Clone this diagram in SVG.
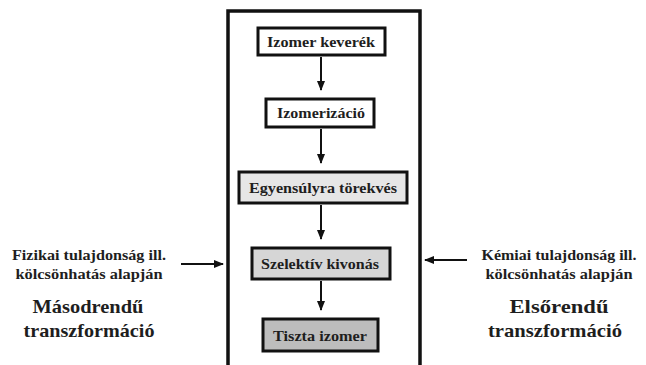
<svg xmlns="http://www.w3.org/2000/svg" width="646" height="365" viewBox="0 0 646 365">
<style>
text{font-family:'Liberation Serif','Times New Roman',serif;font-weight:bold;fill:#1e1e1e;text-anchor:middle}
.bt{font-size:15px}
.st{font-size:15px}
.lt{font-size:19px}
.box{stroke:#111;stroke-width:3}
.ln{stroke:#111;stroke-width:2;fill:none}
</style>
<defs>
<marker id="ah" viewBox="0 0 10 10" refX="9" refY="5" markerWidth="5" markerHeight="5" orient="auto" markerUnits="strokeWidth"><path d="M0,1 L10,5 L0,9 Z" fill="#111"/></marker>
</defs>
<rect width="646" height="365" fill="#fff"/>
<g id="frame"><path d="M228,366 V11 H420 V366" fill="none" stroke="#111" stroke-width="3.5"/></g>
<g id="n1"><rect class="box" x="258" y="28" width="127" height="27" fill="#fff"/><text class="bt" x="321" y="47" textLength="108" lengthAdjust="spacingAndGlyphs">Izomer keverék</text></g>
<g id="n2"><rect class="box" x="266" y="99" width="108" height="28" fill="#fff"/><text class="bt" x="321" y="118" textLength="88" lengthAdjust="spacingAndGlyphs">Izomerizáció</text></g>
<g id="n3"><rect class="box" x="239" y="172" width="168" height="31" fill="#e6e6e6"/><text class="bt" x="323" y="193" textLength="148" lengthAdjust="spacingAndGlyphs">Egyensúlyra törekvés</text></g>
<g id="n4"><rect class="box" x="252" y="248" width="138" height="31" fill="#d6d6d6"/><text class="bt" x="320" y="268.5" textLength="118" lengthAdjust="spacingAndGlyphs">Szelektív kivonás</text></g>
<g id="n5"><rect class="box" x="263" y="319" width="115" height="32" fill="#bdbdbd"/><text class="bt" x="320" y="340.5" textLength="94" lengthAdjust="spacingAndGlyphs">Tiszta izomer</text></g>
<g id="connectors">
<line class="ln" x1="321" y1="57" x2="321" y2="90" marker-end="url(#ah)"/>
<line class="ln" x1="321" y1="129" x2="321" y2="163" marker-end="url(#ah)"/>
<line class="ln" x1="321" y1="205" x2="321" y2="239" marker-end="url(#ah)"/>
<line class="ln" x1="321" y1="281" x2="321" y2="310" marker-end="url(#ah)"/>
<line class="ln" x1="181" y1="264" x2="223" y2="264" marker-end="url(#ah)"/>
<line class="ln" x1="467" y1="260" x2="425" y2="260" marker-end="url(#ah)"/>
</g>
<g id="left">
<text class="st" x="89" y="260" textLength="154" lengthAdjust="spacingAndGlyphs">Fizikai tulajdonság ill.</text>
<text class="st" x="89" y="279" textLength="147" lengthAdjust="spacingAndGlyphs">kölcsönhatás alapján</text>
<text class="lt" x="88" y="313" textLength="111" lengthAdjust="spacingAndGlyphs">Másodrendű</text>
<text class="lt" x="89" y="337" textLength="131" lengthAdjust="spacingAndGlyphs">transzformáció</text>
</g>
<g id="right">
<text class="st" x="559" y="260" textLength="155" lengthAdjust="spacingAndGlyphs">Kémiai tulajdonság ill.</text>
<text class="st" x="559" y="279" textLength="147" lengthAdjust="spacingAndGlyphs">kölcsönhatás alapján</text>
<text class="lt" x="559" y="313" textLength="99" lengthAdjust="spacingAndGlyphs">Elsőrendű</text>
<text class="lt" x="555" y="337" textLength="134" lengthAdjust="spacingAndGlyphs">transzformáció</text>
</g>
</svg>
